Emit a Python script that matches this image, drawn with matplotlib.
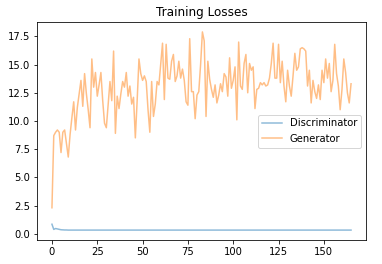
import matplotlib
matplotlib.use("Agg")
import matplotlib.pyplot as plt

gen_losses = [
    2.3, 8.7, 9.0, 9.2, 9.0, 7.2, 9.0, 9.2, 8.0, 6.8,
    8.8, 10.3, 11.7, 9.2, 11.2, 12.4, 13.6, 11.3, 14.2, 12.4,
    11.0, 9.4, 15.5, 13.0, 14.3, 12.2, 13.2, 14.3, 11.8, 9.8,
    9.4, 11.5, 13.5, 11.8, 16.2, 8.9, 12.2, 11.1, 12.4, 13.5,
    13.0, 14.3, 12.2, 13.1, 11.5, 12.1, 8.5, 11.8, 15.5, 14.2,
    13.6, 14.0, 13.5, 11.0, 9.0, 13.5, 10.4, 11.5, 13.5, 13.2,
    15.0, 16.9, 11.9, 16.8, 13.8, 13.7, 15.3, 15.9, 13.5, 14.0,
    15.3, 13.8, 14.6, 13.6, 11.7, 11.4, 17.3, 12.6, 12.6, 10.2,
    12.3, 12.6, 15.0, 17.9, 17.1, 10.4, 15.3, 13.7, 12.8, 12.1,
    13.2, 11.6, 12.3, 13.3, 12.6, 14.2, 13.9, 12.2, 15.6, 12.9,
    13.6, 14.8, 10.1, 17.0, 13.1, 12.8, 15.1, 15.9, 12.5, 15.1,
    14.5, 14.8, 11.1, 12.8, 12.9, 13.4, 13.2, 13.4, 13.1, 13.2,
    13.8, 15.1, 16.9, 13.8, 13.8, 16.8, 13.4, 15.3, 13.1, 11.7,
    14.5, 13.1, 12.2, 14.0, 16.0, 14.5, 14.8, 16.4, 16.5, 16.4,
    16.2, 13.1, 14.5, 11.6, 13.6, 12.6, 12.0, 13.2, 11.9, 14.5,
    13.4, 15.5, 13.8, 15.1, 12.6, 13.6, 16.8, 14.2, 13.1, 11.0,
    12.8, 15.5, 14.3, 12.5, 11.6, 13.3,
]

# Discriminator loss: drops fast, then stays flat
disc_losses = [
    0.84, 0.38, 0.46, 0.42, 0.37, 0.35, 0.34, 0.33, 0.33, 0.32,
    0.32, 0.32, 0.32, 0.32, 0.32, 0.32, 0.32, 0.32, 0.32, 0.32,
    0.32, 0.32, 0.32, 0.32, 0.32, 0.32, 0.32, 0.32, 0.32, 0.32,
    0.32, 0.32, 0.32, 0.32, 0.32, 0.32, 0.32, 0.32, 0.32, 0.32,
    0.32, 0.32, 0.32, 0.32, 0.32, 0.32, 0.32, 0.32, 0.32, 0.32,
    0.32, 0.32, 0.32, 0.32, 0.32, 0.32, 0.32, 0.32, 0.32, 0.32,
    0.32, 0.32, 0.32, 0.32, 0.32, 0.32, 0.32, 0.32, 0.32, 0.32,
    0.32, 0.32, 0.32, 0.32, 0.32, 0.32, 0.32, 0.32, 0.32, 0.32,
    0.32, 0.32, 0.32, 0.32, 0.32, 0.32, 0.32, 0.32, 0.32, 0.32,
    0.32, 0.32, 0.32, 0.32, 0.32, 0.32, 0.32, 0.32, 0.32, 0.32,
    0.32, 0.32, 0.32, 0.32, 0.32, 0.32, 0.32, 0.32, 0.32, 0.32,
    0.32, 0.32, 0.32, 0.32, 0.32, 0.32, 0.32, 0.32, 0.32, 0.32,
    0.32, 0.32, 0.32, 0.32, 0.32, 0.32, 0.32, 0.32, 0.32, 0.32,
    0.32, 0.32, 0.32, 0.32, 0.32, 0.32, 0.32, 0.32, 0.32, 0.32,
    0.32, 0.32, 0.32, 0.32, 0.32, 0.32, 0.32, 0.32, 0.32, 0.32,
    0.32, 0.32, 0.32, 0.32, 0.32, 0.32, 0.32, 0.32, 0.32, 0.32,
    0.32, 0.32, 0.32, 0.32, 0.32, 0.32,
]

fig = plt.figure(figsize=(382 / 72, 264 / 72), dpi=72)
ax = fig.add_axes([37 / 382, 24 / 264, 329 / 382, 218 / 264])

ax.plot(disc_losses, label='Discriminator', alpha=0.5)
ax.plot(gen_losses, label='Generator', alpha=0.5)
ax.set_title("Training Losses")
ax.legend(loc='center right')

fig.savefig("out.png", dpi=72)
